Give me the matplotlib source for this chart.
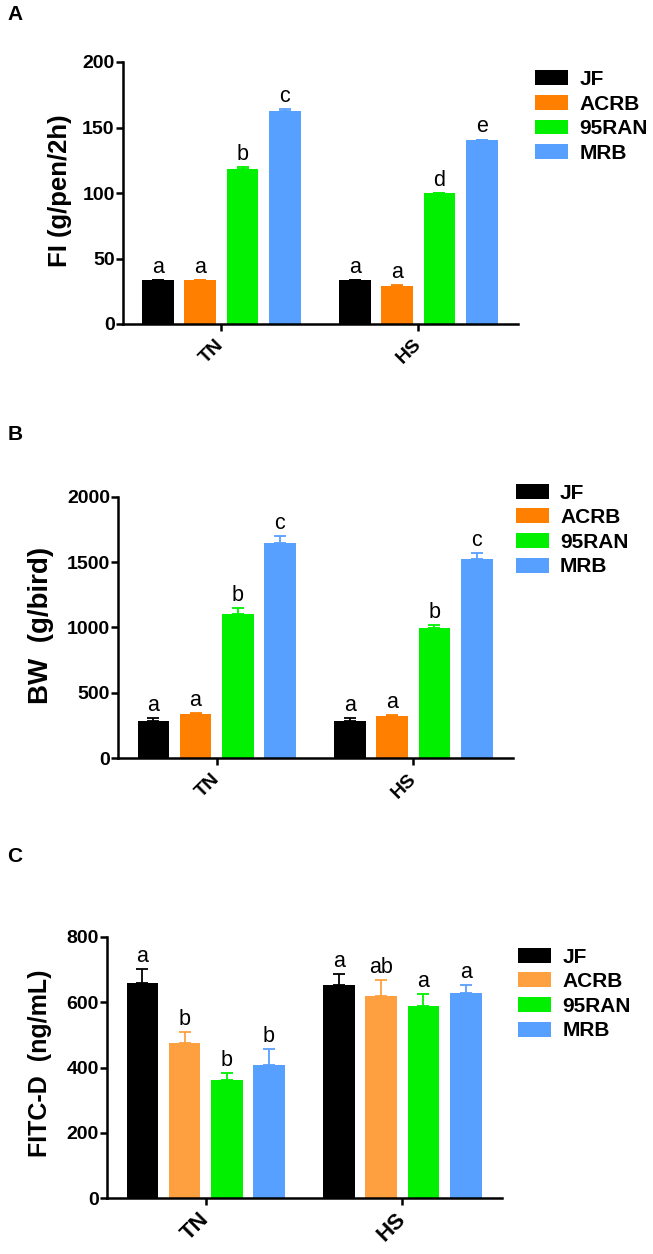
import matplotlib
matplotlib.use("Agg")
import matplotlib.pyplot as plt
import numpy as np

plt.rcParams['font.family'] = ['Liberation Sans', 'DejaVu Sans']

groups = ["TN", "HS"]
series = ["JF", "ACRB", "95RAN", "MRB"]

# Panel A: feed intake
fi_TN = [33.5, 33.5, 118.7, 162.7]
fi_HS = [33.5, 29.2, 99.7, 140.3]
fi_err_TN = [0.3, 0.3, 1.2, 1.6]
fi_err_HS = [0.3, 0.3, 0.5, 0.5]
fi_letters_TN = ["a", "a", "b", "c"]
fi_letters_HS = ["a", "a", "d", "e"]

# Panel B: body weight
bw_TN = [285, 341, 1103, 1644]
bw_HS = [288, 326, 994, 1524]
bw_err_TN = [20, 3, 46, 58]
bw_err_HS = [20, 2, 25, 43]
bw_letters_TN = ["a", "a", "b", "c"]
bw_letters_HS = ["a", "a", "b", "c"]

# Panel C: FITC-D
fd_TN = [659, 476, 362, 407]
fd_HS = [651, 618, 589, 629]
fd_err_TN = [41, 33, 21, 50]
fd_err_HS = [35, 50, 37, 23]
fd_letters_TN = ["a", "b", "b", "b"]
fd_letters_HS = ["a", "ab", "a", "a"]

colors_AB = ["#000000", "#FF7F00", "#00F000", "#58A0FF"]
colors_C = ["#000000", "#FFA040", "#00F000", "#58A0FF"]

W, H = 653, 1254
fig = plt.figure(figsize=(W / 100, H / 100), dpi=100)

group_pos = np.array([0.0, 4.66])
offsets = np.array([-1.5, -0.5, 0.5, 1.5])
bar_w = 0.75


def make_axes(left, top, bottom, right):
    return fig.add_axes([left / W, 1 - bottom / H, (right - left) / W, (bottom - top) / H])


def draw_panel(ax, tn, hs, etn, ehs, ltn, lhs, colors, ymax, yticks, ylabel,
               ylabfs, ylab_x, ylab_y, xtickfs, leg_px):
    for i, name in enumerate(series):
        xs = group_pos + offsets[i]
        vals = [tn[i], hs[i]]
        errs = [etn[i], ehs[i]]
        ax.bar(xs, vals, width=bar_w, color=colors[i], label=name, zorder=2)
        ax.errorbar(xs, vals, yerr=[[0, 0], errs], fmt='none', ecolor=colors[i],
                    elinewidth=1.3, capsize=4.6, capthick=1.3, zorder=1)
        for x, v, e, lab in zip(xs, vals, errs, [ltn[i], lhs[i]]):
            ax.annotate(lab, (x, v + e), xytext=(0, 1.5), textcoords='offset points',
                        ha='center', va='bottom', fontsize=15.5, color='black')
    ax.set_xlim(-2.33, 7.02)
    ax.set_ylim(0, ymax)
    ax.set_yticks(yticks)
    ax.set_xticks(group_pos)
    ax.set_xticklabels(groups, rotation=45, ha='right', va='center',
                       rotation_mode='anchor', fontsize=xtickfs, fontweight='bold')
    for lab in ax.get_yticklabels():
        lab.set_fontweight('bold')
        lab.set_fontsize(14)
    ax.spines['top'].set_visible(False)
    ax.spines['right'].set_visible(False)
    ax.spines['left'].set_linewidth(1.8)
    ax.spines['bottom'].set_linewidth(1.8)
    ax.tick_params(axis='y', length=5, width=1.8, pad=1)
    ax.tick_params(axis='x', length=5, width=1.8, pad=8)
    ax.set_ylabel(ylabel, fontsize=ylabfs, fontweight='bold')
    ax.yaxis.set_label_coords(ylab_x, ylab_y)
    lx, ly = leg_px
    ax.legend(loc='center left', bbox_to_anchor=(lx / W, 1 - ly / H),
              bbox_transform=fig.transFigure, frameon=False, borderpad=0,
              borderaxespad=0, handlelength=1.58, handleheight=0.72,
              handletextpad=0.55, labelspacing=0.27,
              prop={'weight': 'bold', 'size': 15})
    return ax


axA = make_axes(123, 62, 324, 518)
draw_panel(axA, fi_TN, fi_HS, fi_err_TN, fi_err_HS, fi_letters_TN, fi_letters_HS,
           colors_AB, 200, [0, 50, 100, 150, 200], "FI (g/pen/2h)", 18.5,
           -0.129, 0.508, 14, (535, 116.5))

axB = make_axes(118.3, 496.7, 758.3, 513)
draw_panel(axB, bw_TN, bw_HS, bw_err_TN, bw_err_HS, bw_letters_TN, bw_letters_HS,
           colors_AB, 2000, [0, 500, 1000, 1500, 2000], "BW  (g/bird)", 20,
           -0.163, 0.506, 14, (515.7, 530))

axC = make_axes(107.3, 936.7, 1198.3, 502)
draw_panel(axC, fd_TN, fd_HS, fd_err_TN, fd_err_HS, fd_letters_TN, fd_letters_HS,
           colors_C, 800, [0, 200, 400, 600, 800], "FITC-D  (ng/mL)", 18,
           -0.140, 0.517, 16, (518, 994))

for lab, (x, y) in zip(["A", "B", "C"], [(15, 15), (15, 435), (15, 857)]):
    fig.text(x / W, 1 - y / H, lab, fontsize=15, fontweight='bold', ha='center', va='center')

fig.savefig("out.png", dpi=100)
